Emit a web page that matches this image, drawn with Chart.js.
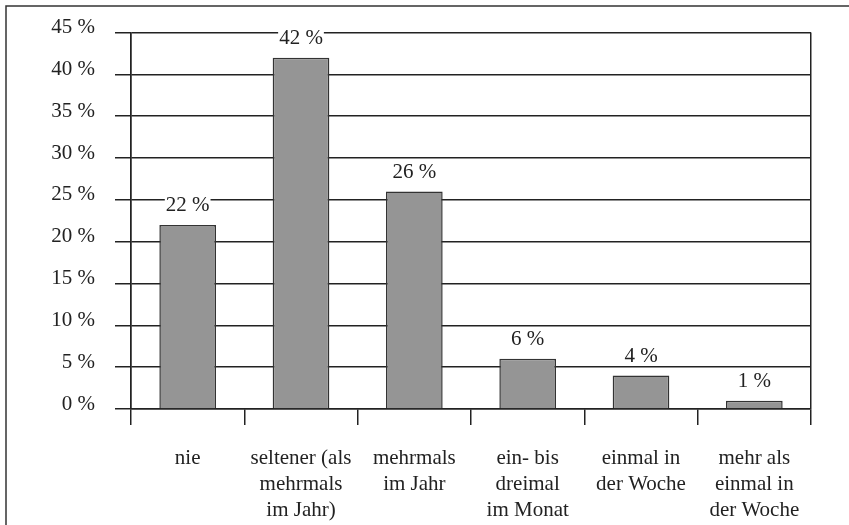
<!DOCTYPE html>
<html>
<head>
<meta charset="utf-8">
<script src="https://cdn.jsdelivr.net/npm/chart.js@4/dist/chart.umd.min.js"></script>
<style>
  html, body { margin: 0; padding: 0; background: #fff; }
  #wrap { position: relative; width: 849px; height: 525px; }
</style>
</head>
<body>
<div id="wrap"><canvas id="c" width="849" height="525"></canvas></div>
<script>
const categories = [
  ["nie"],
  ["seltener (als", "mehrmals", "im Jahr)"],
  ["mehrmals", "im Jahr"],
  ["ein- bis", "dreimal", "im Monat"],
  ["einmal in", "der Woche"],
  ["mehr als", "einmal in", "der Woche"]
];
const values = [22, 42, 26, 6, 4, 1];
const yMin = 0, yMax = 45, yStep = 5;

const FONT = "'Liberation Serif', 'Times New Roman', serif";
const INK = '#222';

const framePlugin = {
  id: 'frame',
  beforeDraw(chart) {
    const ctx = chart.ctx;
    ctx.save();
    ctx.fillStyle = '#fff';
    ctx.fillRect(0, 0, chart.width, chart.height);
    ctx.strokeStyle = '#333';
    ctx.lineWidth = 1.5;
    ctx.beginPath();
    ctx.moveTo(6, chart.height);
    ctx.lineTo(6, 6);
    ctx.lineTo(chart.width, 6);
    ctx.stroke();
    ctx.restore();
  }
};

const labelPlugin = {
  id: 'barLabels',
  afterDatasetsDraw(chart) {
    const ctx = chart.ctx;
    const meta = chart.getDatasetMeta(0);
    ctx.save();
    ctx.font = "21px " + FONT;
    ctx.textAlign = 'center';
    ctx.textBaseline = 'middle';
    meta.data.forEach((bar, i) => {
      const txt = values[i] + ' %';
      const w = ctx.measureText(txt).width;
      const cy = bar.y - 19;
      ctx.fillStyle = '#fff';
      ctx.fillRect(bar.x - w / 2 - 1, cy - 8, w + 2, 16);
      ctx.fillStyle = INK;
      ctx.fillText(txt, bar.x, cy);
    });
    ctx.restore();
  }
};

new Chart(document.getElementById('c'), {
  type: 'bar',
  data: {
    labels: categories,
    datasets: [{
      data: values,
      backgroundColor: '#959595',
      borderColor: '#333',
      borderWidth: 1.5,
      barPercentage: 0.5,
      categoryPercentage: 1.0
    }]
  },
  options: {
    responsive: false,
    animation: false,
    devicePixelRatio: 1,
    layout: { padding: { left: 0, right: 38, top: 32, bottom: 0 } },
    plugins: { legend: { display: false }, tooltip: { enabled: false } },
    scales: {
      x: {
        offset: true,
        afterFit(scale) { scale.height = 116; },
        grid: {
          offset: true,
          drawOnChartArea: true,
          drawTicks: true,
          tickLength: 16,
          lineWidth: 1.5,
          color: (c) => (c.index === undefined || c.index === 0) ? INK : 'rgba(0,0,0,0)',
          tickColor: INK
        },
        border: { display: true, color: INK, width: 1.5 },
        ticks: {
          color: INK,
          padding: 20,
          maxRotation: 0,
          autoSkip: false,
          font: { family: FONT, size: 21, lineHeight: 1.24 }
        }
      },
      y: {
        min: yMin,
        max: yMax,
        afterFit(scale) { scale.width = 131; },
        grid: {
          color: INK,
          lineWidth: 1.5,
          drawTicks: true,
          tickLength: 16
        },
        border: { display: true, color: INK, width: 1.5 },
        ticks: {
          stepSize: yStep,
          color: INK,
          padding: 20,
          labelOffset: -5,
          font: { family: FONT, size: 21 },
          callback: (v) => v + ' %'
        }
      }
    }
  },
  plugins: [framePlugin, labelPlugin]
});
</script>
</body>
</html>
